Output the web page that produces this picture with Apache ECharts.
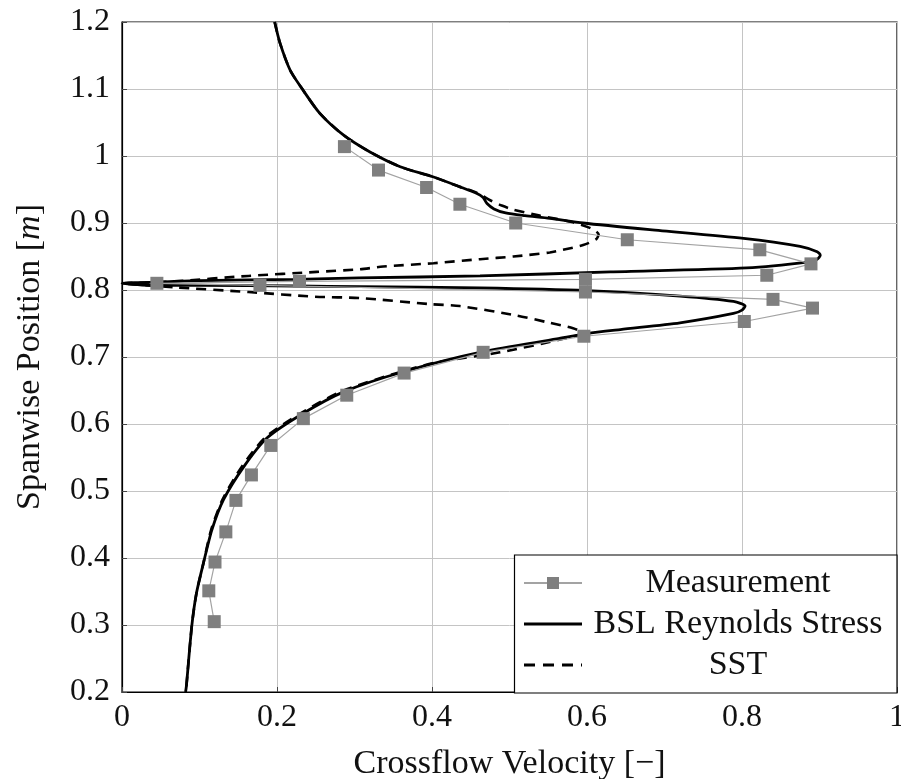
<!DOCTYPE html>
<html>
<head>
<meta charset="utf-8">
<title>Crossflow velocity profile</title>
<script src="https://cdn.jsdelivr.net/npm/echarts@6/dist/echarts.min.js"></script>
<style>
  html, body { margin: 0; padding: 0; background: #ffffff; }
  #chart { width: 901px; height: 779px; }
</style>
</head>
<body>
<div id="chart"></div>
<script>
// Measured crossflow velocity [x, spanwise position]
const measurement = [
  [0.287, 1.014], [0.331, 0.979], [0.393, 0.953], [0.436, 0.928], [0.508, 0.900],
  [0.652, 0.875], [0.823, 0.860], [0.889, 0.839], [0.832, 0.822], [0.598, 0.816],
  [0.229, 0.813], [0.045, 0.810], [0.178, 0.807], [0.598, 0.797], [0.840, 0.786],
  [0.891, 0.773], [0.803, 0.753], [0.596, 0.731], [0.466, 0.707], [0.364, 0.676],
  [0.290, 0.643], [0.234, 0.608], [0.192, 0.568], [0.167, 0.524], [0.147, 0.486],
  [0.134, 0.439], [0.120, 0.394], [0.112, 0.351], [0.119, 0.305]
];

// BSL Reynolds Stress model profile
const bsl = [
  [0.197, 1.200], [0.204, 1.168], [0.217, 1.128], [0.232, 1.101], [0.255, 1.064],
  [0.286, 1.031], [0.320, 1.006], [0.359, 0.984], [0.401, 0.969], [0.436, 0.954],
  [0.458, 0.944], [0.466, 0.938], [0.471, 0.929], [0.480, 0.921], [0.495, 0.915],
  [0.520, 0.911], [0.552, 0.907], [0.595, 0.900], [0.681, 0.890], [0.802, 0.877],
  [0.875, 0.865], [0.897, 0.857], [0.901, 0.852], [0.897, 0.846], [0.886, 0.842],
  [0.806, 0.833], [0.630, 0.827], [0.462, 0.821], [0.306, 0.818], [0.225, 0.816],
  [0.100, 0.814], [0.050, 0.812], [0.020, 0.811], [0.000, 0.810],
  [0.034, 0.807], [0.100, 0.807], [0.225, 0.806], [0.307, 0.805], [0.462, 0.803],
  [0.600, 0.799], [0.720, 0.791], [0.789, 0.783], [0.804, 0.776], [0.800, 0.770],
  [0.789, 0.765], [0.720, 0.751], [0.643, 0.741], [0.600, 0.735], [0.561, 0.727],
  [0.466, 0.708], [0.363, 0.678], [0.286, 0.648], [0.234, 0.616], [0.187, 0.579],
  [0.157, 0.536], [0.131, 0.487], [0.116, 0.442], [0.105, 0.392], [0.096, 0.347],
  [0.090, 0.298], [0.083, 0.208], [0.082, 0.200]
];

// SST model profile
const sst = [
  [0.197, 1.200], [0.204, 1.168], [0.217, 1.128], [0.232, 1.101], [0.255, 1.064],
  [0.286, 1.031], [0.320, 1.006], [0.359, 0.984], [0.401, 0.969], [0.436, 0.954],
  [0.458, 0.945], [0.475, 0.934], [0.490, 0.926], [0.505, 0.920], [0.539, 0.911],
  [0.582, 0.901], [0.605, 0.892], [0.615, 0.883], [0.612, 0.876], [0.595, 0.867],
  [0.569, 0.860], [0.552, 0.856], [0.505, 0.850], [0.462, 0.846], [0.402, 0.840],
  [0.337, 0.835], [0.307, 0.831], [0.251, 0.827], [0.163, 0.821], [0.068, 0.813],
  [0.030, 0.811], [0.000, 0.810],
  [0.030, 0.807], [0.068, 0.804], [0.163, 0.797], [0.249, 0.790], [0.307, 0.788],
  [0.397, 0.779], [0.436, 0.776], [0.509, 0.762], [0.552, 0.751], [0.582, 0.743],
  [0.595, 0.736], [0.565, 0.726], [0.488, 0.707], [0.406, 0.692], [0.360, 0.678],
  [0.284, 0.649], [0.232, 0.617], [0.185, 0.580], [0.155, 0.537], [0.130, 0.488],
  [0.115, 0.442], [0.105, 0.392], [0.096, 0.347], [0.090, 0.298], [0.083, 0.208],
  [0.082, 0.200]
];

const seriesNames = ['Measurement', 'BSL Reynolds Stress', 'SST'];
const xTickLabels = ['0', '0.2', '0.4', '0.6', '0.8', '1'];
const yTickLabels = ['0.2', '0.3', '0.4', '0.5', '0.6', '0.7', '0.8', '0.9', '1', '1.1', '1.2'];

const FONT = "'Liberation Serif', 'DejaVu Serif', serif";
const INK = '#111111';

const chart = echarts.init(document.getElementById('chart'), null, { renderer: 'canvas' });

chart.setOption({
  animation: false,
  backgroundColor: '#ffffff',
  grid: {
    left: 122, top: 22, right: 4, bottom: 87,
    outerBoundsMode: 'none',
    containLabel: false,
    show: true, borderColor: '#000000', borderWidth: 1.2, backgroundColor: 'transparent'
  },
  xAxis: {
    type: 'value', min: 0, max: 1, interval: 0.2,
    name: 'Crossflow Velocity [\u2212]',
    nameLocation: 'middle', nameGap: 55,
    nameTextStyle: { fontFamily: FONT, fontSize: 34, color: INK },
    axisLine: { show: true, lineStyle: { color: '#000000', width: 1.2 } },
    axisTick: { show: true, inside: true, length: 5, lineStyle: { color: '#444444' } },
    splitLine: { show: true, lineStyle: { color: '#c4c4c4', width: 1 } },
    axisLabel: {
      fontFamily: FONT, fontSize: 32, color: INK, margin: 10,
      formatter: (v, i) => xTickLabels[i]
    }
  },
  yAxis: {
    type: 'value', min: 0.2, max: 1.2, interval: 0.1,
    name: '{a|Spanwise Position [}{b|m}{a|]}',
    nameLocation: 'middle', nameGap: 75,
    nameTextStyle: {
      color: INK,
      rich: {
        a: { fontFamily: FONT, fontSize: 34, color: INK },
        b: { fontFamily: FONT, fontSize: 34, color: INK, fontStyle: 'italic' }
      }
    },
    axisLine: { show: true, lineStyle: { color: '#000000', width: 1.2 } },
    axisTick: { show: true, inside: true, length: 5, lineStyle: { color: '#444444' } },
    splitLine: { show: true, lineStyle: { color: '#c4c4c4', width: 1 } },
    axisLabel: {
      fontFamily: FONT, fontSize: 32, color: INK, margin: 12,
      formatter: (v, i) => yTickLabels[i]
    }
  },
  legend: {
    data: [
      { name: seriesNames[0] },
      { name: seriesNames[1], itemStyle: { opacity: 0 }, lineStyle: { width: 3 } },
      { name: seriesNames[2], itemStyle: { opacity: 0 }, lineStyle: { width: 3, type: [11, 8] } }
    ],
    orient: 'vertical',
    right: 4, bottom: 86,
    padding: [11, 8, 11, 8],
    itemGap: 7,
    itemWidth: 58, itemHeight: 15,
    backgroundColor: '#ffffff',
    borderColor: '#000000', borderWidth: 1.2,
    formatter: name => '{t|' + name + '}',
    textStyle: {
      rich: {
        t: { width: 302, align: 'center', fontFamily: FONT, fontSize: 34, color: INK, lineHeight: 34 }
      }
    }
  },
  series: [
    {
      name: seriesNames[0],
      type: 'line',
      data: measurement,
      z: 4,
      symbol: 'rect', symbolSize: 13,
      itemStyle: { color: '#7f7f7f', borderWidth: 0 },
      lineStyle: { color: '#a3a3a3', width: 1.2 }
    },
    {
      name: seriesNames[1],
      type: 'line',
      data: bsl,
      z: 3,
      showSymbol: false, symbol: 'none',
      smooth: 0.25,
      itemStyle: { color: '#000000' },
      lineStyle: { color: '#000000', width: 2.8 }
    },
    {
      name: seriesNames[2],
      type: 'line',
      data: sst,
      z: 2,
      showSymbol: false, symbol: 'none',
      smooth: 0.25,
      itemStyle: { color: '#000000' },
      lineStyle: { color: '#000000', width: 2.6, type: [10, 7] }
    }
  ]
});
</script>
</body>
</html>
